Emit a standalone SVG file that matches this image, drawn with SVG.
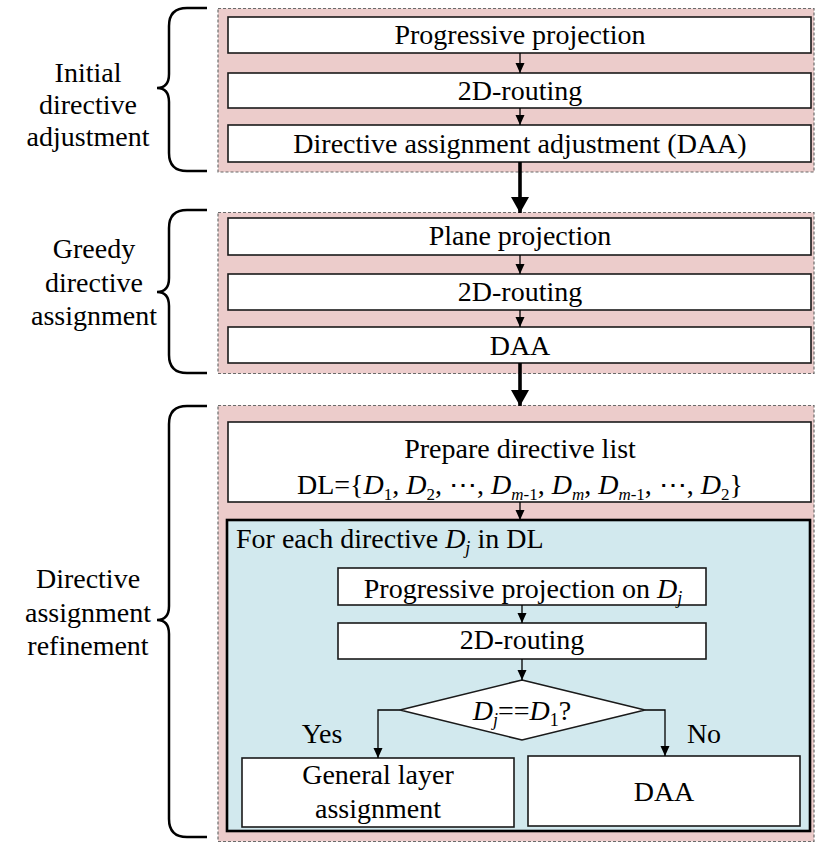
<svg xmlns="http://www.w3.org/2000/svg" width="815" height="844" viewBox="0 0 815 844">
<defs>
<style>
.pink{fill:#ECCCCB;stroke:#6b6b6b;stroke-width:1.2;stroke-dasharray:3,2}
.box{fill:#ffffff;stroke:#1a1a1a;stroke-width:1.6}
.blue{fill:#D2E9EE;stroke:#000;stroke-width:2.6}
.t{font-size:28px;fill:#000}
.c{text-anchor:middle}
.i{font-style:italic}
.s{font-size:18px}
.brace{fill:none;stroke:#000;stroke-width:2.5}
.thin{fill:none;stroke:#000;stroke-width:1.3}
.thick{fill:none;stroke:#000;stroke-width:3.6}
</style>
<marker id="ah" viewBox="0 0 10 10" refX="10" refY="5" markerWidth="10" markerHeight="10" markerUnits="userSpaceOnUse" orient="auto">
<path d="M0,0.5 L10,5 L0,9.5 z" fill="#000"/>
</marker>
<marker id="ahb" viewBox="0 0 16 18" refX="16" refY="9" markerWidth="16" markerHeight="18" markerUnits="userSpaceOnUse" orient="auto">
<path d="M0,0 L16,9 L0,18 z" fill="#000"/>
</marker>
</defs>
<g font-family="Liberation Serif" font-weight="400">
<g id="stage1">
<rect class="pink" x="218" y="8.5" width="596" height="163.5"/>
<path class="brace" d="M207,8 H187 Q169,8 169,26 V74 Q169,88 157,88 Q169,88 169,102 V153 Q169,171 187,171 H207"/>
<text class="t c" x="88" y="82">Initial</text>
<text class="t c" x="88" y="114">directive</text>
<text class="t c" x="88" y="146">adjustment</text>
</g>
<g id="n1"><rect class="box" x="228" y="17" width="583" height="36"/><text class="t c" x="520" y="44">Progressive projection</text></g>
<g id="n2"><rect class="box" x="228" y="73" width="583" height="35"/><text class="t c" x="520" y="100">2D-routing</text></g>
<g id="n3"><rect class="box" x="228" y="125" width="583" height="37"/><text class="t c" x="520" y="153">Directive assignment adjustment (DAA)</text></g>

<g id="stage2">
<rect class="pink" x="218" y="212.5" width="596" height="161"/>
<path class="brace" d="M207,210 H187 Q169,210 169,228 V278 Q169,292 157,292 Q169,292 169,306 V355 Q169,373 187,373 H207"/>
<text class="t c" x="94" y="258">Greedy</text>
<text class="t c" x="94" y="292">directive</text>
<text class="t c" x="94" y="325">assignment</text>
</g>
<g id="n4"><rect class="box" x="228" y="218" width="583" height="37"/><text class="t c" x="520" y="245">Plane projection</text></g>
<g id="n5"><rect class="box" x="228" y="274" width="583" height="36"/><text class="t c" x="520" y="301">2D-routing</text></g>
<g id="n6"><rect class="box" x="228" y="327" width="583" height="36"/><text class="t c" x="520" y="355">DAA</text></g>

<g id="stage3">
<rect class="pink" x="218" y="405.5" width="596" height="436"/>
<path class="brace" d="M207,406 H187 Q169,406 169,424 V606 Q169,620 157,620 Q169,620 169,634 V819 Q169,837 187,837 H207"/>
<text class="t c" x="88" y="588">Directive</text>
<text class="t c" x="88" y="622">assignment</text>
<text class="t c" x="88" y="655">refinement</text>
</g>
<g id="n7"><rect class="box" x="228" y="422" width="583" height="80"/>
<text class="t c" x="520" y="458">Prepare directive list</text>
<text class="t c" x="520" y="494">DL={<tspan class="i">D</tspan><tspan dy="6" style="font-size:17px">1</tspan><tspan dy="-6">, </tspan><tspan class="i">D</tspan><tspan dy="6" style="font-size:17px">2</tspan><tspan dy="-6">, ⋯, </tspan><tspan class="i">D</tspan><tspan class="i" dy="6" style="font-size:17px">m</tspan><tspan style="font-size:17px">-1</tspan><tspan dy="-6">, </tspan><tspan class="i">D</tspan><tspan class="i" dy="6" style="font-size:17px">m</tspan><tspan dy="-6">, </tspan><tspan class="i">D</tspan><tspan class="i" dy="6" style="font-size:17px">m</tspan><tspan style="font-size:17px">-1</tspan><tspan dy="-6">, ⋯, </tspan><tspan class="i">D</tspan><tspan dy="6" style="font-size:17px">2</tspan><tspan dy="-6">}</tspan></text>
</g>

<g id="loop">
<rect class="blue" x="227" y="520" width="583" height="311"/>
<text class="t" x="236" y="548">For each directive <tspan class="i">D</tspan><tspan class="s i" dy="6">j</tspan><tspan dy="-6"> in DL</tspan></text>
</g>
<g id="n8"><rect class="box" x="338" y="568" width="368" height="37"/><text class="t c" x="523" y="598">Progressive projection on <tspan class="i">D</tspan><tspan class="s i" dy="6">j</tspan></text></g>
<g id="n9"><rect class="box" x="338" y="623" width="368" height="36"/><text class="t c" x="522" y="649">2D-routing</text></g>
<g id="n10"><path class="box" d="M522,680 L645,710 L522,740 L400,710 Z"/><text class="t c" x="522" y="720"><tspan class="i">D</tspan><tspan class="s i" dy="6">j</tspan><tspan dy="-6">==</tspan><tspan class="i">D</tspan><tspan class="s" dy="6">1</tspan><tspan dy="-6">?</tspan></text></g>
<g id="n11"><rect class="box" x="242" y="758" width="272" height="69"/><text class="t c" x="378" y="784">General layer</text><text class="t c" x="378" y="818">assignment</text></g>
<g id="n12"><rect class="box" x="528" y="756" width="272" height="70"/><text class="t c" x="664" y="801">DAA</text></g>

<g id="connectors">
<path class="thin" d="M520,53 V73" marker-end="url(#ah)"/>
<path class="thin" d="M520,108 V125" marker-end="url(#ah)"/>
<path class="thick" d="M520,162 V213" marker-end="url(#ahb)"/>
<path class="thin" d="M520,255 V274" marker-end="url(#ah)"/>
<path class="thin" d="M520,310 V327" marker-end="url(#ah)"/>
<path class="thick" d="M520,363 V406" marker-end="url(#ahb)"/>
<path class="thin" d="M520,502 V520" marker-end="url(#ah)"/>
<path class="thin" d="M522,605 V623" marker-end="url(#ah)"/>
<path class="thin" d="M522,659 V680" marker-end="url(#ah)"/>
<path class="thin" d="M400,710 H378 V758" marker-end="url(#ah)"/>
<path class="thin" d="M645,710 H665 V756" marker-end="url(#ah)"/>
<text class="t c" x="322" y="743">Yes</text>
<text class="t c" x="704" y="743">No</text>
</g>
</g>
</svg>
